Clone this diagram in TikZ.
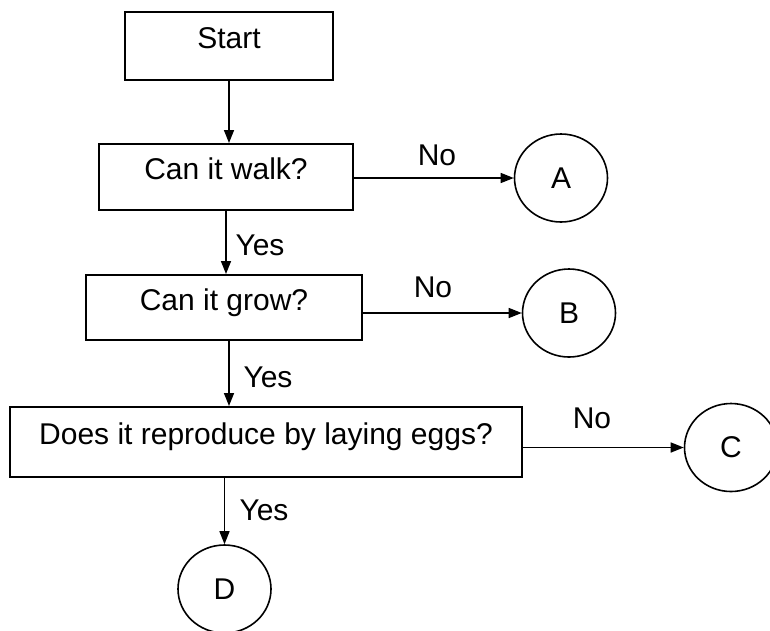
\documentclass[tikz,border=0pt]{standalone}
\usepackage{fontspec}
\setmainfont{Liberation Sans}
\usetikzlibrary{arrows.meta,shapes.geometric}
\begin{document}
\begin{tikzpicture}[x=1pt,y=-1pt,
  txt/.style={font=\fontsize{30}{36}\selectfont},
  box/.style={draw, line width=2pt, inner sep=0pt, txt, text height=0.72em, text depth=0.2em},
  term/.style={ellipse, draw, line width=1.6pt, minimum width=93pt, minimum height=88pt, inner sep=0pt, txt},
  arr/.style={line width=1.5pt, -{Triangle[length=13pt,width=10pt]}},
  lbl/.style={txt, inner sep=0pt}]
\fill[white] (0,0) rectangle (770,630);
\useasboundingbox (0,0) rectangle (770,630);

\node[box, minimum width=208pt, minimum height=68pt] (start) at (229,46) {Start};
\node[box, minimum width=254pt, minimum height=66pt] (walk) at (226,177) {Can it walk?};
\node[box, minimum width=276pt, minimum height=65pt] (grow) at (224,307.5) {Can it grow?};
\node[box, minimum width=512pt, minimum height=70pt] (does) at (266,442) {Does it reproduce by laying eggs?};

\node[term] (A) at (561,178) {A};
\node[term] (B) at (569,313) {B};
\node[term] (C) at (731,447.5) {C};
\node[term] (D) at (224.5,589) {D};

\draw[arr] (start.south) -- (start.south |- walk.north);
\draw[arr] (walk.south) -- (walk.south |- grow.north);
\coordinate (g1) at ([xshift=5pt]grow.south);
\draw[arr] (g1) -- (g1 |- does.north);
\coordinate (d1) at (D.north |- does.south);
\draw[arr] (d1) -- (D.north);

\draw[arr] (walk.east |- A.west) -- (A.west);
\draw[arr] (grow.east |- B.west) -- (B.west);
\draw[arr] (does.east |- C.west) -- (C.west);

\node[lbl] (no1) at (437,155) {No};
\node[lbl] (no2) at (433,287) {No};
\node[lbl] (no3) at (592,418) {No};
\node[lbl] (yes1) at (260,245) {Yes};
\node[lbl] (yes2) at (268,377) {Yes};
\node[lbl] (yes3) at (264,510) {Yes};
\end{tikzpicture}
\end{document}
